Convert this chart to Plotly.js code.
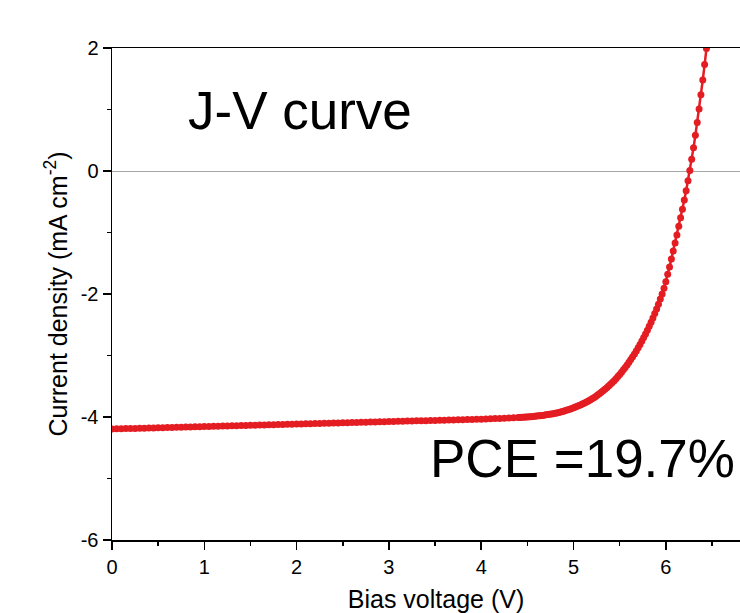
<!DOCTYPE html>
<html>
<head>
<meta charset="utf-8">
<script src="https://cdn.plot.ly/plotly-3.0.1.min.js"></script>
<style>
  html, body { margin: 0; padding: 0; background: #ffffff; overflow: hidden; width: 740px; height: 613px; }
  #chart { width: 760px; height: 613px; }
</style>
</head>
<body>
<div id="chart"></div>
<script>
// Bias voltage (V), flat region sampled every 0.05 V
const voltageFlat = [
  0.00, 0.05, 0.10, 0.15, 0.20, 0.25, 0.30, 0.35, 0.40, 0.45,
  0.50, 0.55, 0.60, 0.65, 0.70, 0.75, 0.80, 0.85, 0.90, 0.95,
  1.00, 1.05, 1.10, 1.15, 1.20, 1.25, 1.30, 1.35, 1.40, 1.45,
  1.50, 1.55, 1.60, 1.65, 1.70, 1.75, 1.80, 1.85, 1.90, 1.95,
  2.00, 2.05, 2.10, 2.15, 2.20, 2.25, 2.30, 2.35, 2.40, 2.45,
  2.50, 2.55, 2.60, 2.65, 2.70, 2.75, 2.80, 2.85, 2.90, 2.95,
  3.00, 3.05, 3.10, 3.15, 3.20, 3.25, 3.30, 3.35, 3.40, 3.45,
  3.50, 3.55, 3.60, 3.65, 3.70, 3.75, 3.80, 3.85, 3.90, 3.95,
  4.00, 4.05, 4.10, 4.15, 4.20, 4.25, 4.30, 4.35, 4.40
];
// Current density (mA cm^-2) for the flat region
const currentFlat = [
  -4.195, -4.193, -4.192, -4.189, -4.187, -4.185, -4.184, -4.181, -4.179, -4.177,
  -4.175, -4.173, -4.171, -4.170, -4.167, -4.165, -4.163, -4.161, -4.160, -4.157,
  -4.155, -4.153, -4.151, -4.149, -4.147, -4.146, -4.143, -4.141, -4.139, -4.137,
  -4.135, -4.133, -4.131, -4.129, -4.127, -4.125, -4.123, -4.121, -4.119, -4.117,
  -4.115, -4.113, -4.111, -4.109, -4.107, -4.105, -4.103, -4.101, -4.099, -4.097,
  -4.095, -4.093, -4.091, -4.089, -4.087, -4.085, -4.083, -4.081, -4.079, -4.077,
  -4.075, -4.073, -4.071, -4.069, -4.067, -4.065, -4.063, -4.061, -4.059, -4.057,
  -4.055, -4.053, -4.051, -4.049, -4.047, -4.045, -4.043, -4.041, -4.039, -4.037,
  -4.035, -4.032, -4.029, -4.026, -4.023, -4.020, -4.017, -4.014, -4.010
];
// Bias voltage (V), knee and rising region sampled every 0.02 V
const voltageKnee = [
  4.42, 4.44, 4.46, 4.48, 4.50, 4.52, 4.54, 4.56, 4.58, 4.60,
  4.62, 4.64, 4.66, 4.68, 4.70, 4.72, 4.74, 4.76, 4.78, 4.80,
  4.82, 4.84, 4.86, 4.88, 4.90, 4.92, 4.94, 4.96, 4.98, 5.00,
  5.02, 5.04, 5.06, 5.08, 5.10, 5.12, 5.14, 5.16, 5.18, 5.20,
  5.22, 5.24, 5.26, 5.28, 5.30, 5.32, 5.34, 5.36, 5.38, 5.40,
  5.42, 5.44, 5.46, 5.48, 5.50, 5.52, 5.54, 5.56, 5.58, 5.60,
  5.62, 5.64, 5.66, 5.68, 5.70, 5.72, 5.74, 5.76, 5.78, 5.80,
  5.82, 5.84, 5.86, 5.88, 5.90, 5.92, 5.94, 5.96, 5.98, 6.00,
  6.02, 6.04, 6.06, 6.08, 6.10, 6.12, 6.14, 6.16, 6.18, 6.20,
  6.22, 6.24, 6.26, 6.28, 6.30, 6.32, 6.34, 6.36, 6.38, 6.40,
  6.42, 6.44
];
// Current density (mA cm^-2) for the knee and rising region
const currentKnee = [
  -4.008, -4.006, -4.004, -4.002, -4.000, -3.997, -3.994, -3.990, -3.987, -3.984,
  -3.981, -3.978, -3.974, -3.970, -3.965, -3.961, -3.956, -3.951, -3.946, -3.940,
  -3.933, -3.926, -3.918, -3.910, -3.901, -3.892, -3.882, -3.872, -3.861, -3.850,
  -3.838, -3.826, -3.813, -3.800, -3.786, -3.771, -3.755, -3.739, -3.722, -3.704,
  -3.685, -3.665, -3.644, -3.622, -3.599, -3.575, -3.550, -3.524, -3.497, -3.469,
  -3.440, -3.409, -3.377, -3.343, -3.308, -3.271, -3.233, -3.194, -3.153, -3.111,
  -3.067, -3.021, -2.974, -2.925, -2.874, -2.821, -2.766, -2.709, -2.650, -2.589,
  -2.525, -2.459, -2.390, -2.318, -2.243, -2.165, -2.083, -1.998, -1.905, -1.800,
  -1.680, -1.560, -1.430, -1.300, -1.170, -1.040, -0.900, -0.760, -0.620, -0.470,
  -0.320, -0.160, 0.010, 0.190, 0.380, 0.580, 0.790, 1.010, 1.240, 1.480,
  1.730, 1.990
];

const xTickVals = [0, 1, 2, 3, 4, 5, 6];
const yTickVals = [-6, -4, -2, 0, 2];

const chartTitle = 'J-V curve';
const pceLabel = 'PCE =19.7%';

const voltage = voltageFlat.concat(voltageKnee);
const current = currentFlat.concat(currentKnee);

const red = '#e41d23';
const fontFamily = 'Arial, "Liberation Sans", Helvetica, sans-serif';

const trace = {
  x: voltage,
  y: current,
  type: 'scatter',
  mode: 'lines+markers',
  line: { color: red, width: 2.5 },
  marker: { color: red, size: 7 },
  hoverinfo: 'skip'
};

const layout = {
  width: 760,
  height: 613,
  margin: { l: 112, r: 0, t: 48, b: 73 },
  paper_bgcolor: '#ffffff',
  plot_bgcolor: '#ffffff',
  showlegend: false,
  font: { family: fontFamily, color: '#000000' },
  xaxis: {
    range: [0, 7.02],
    tickvals: xTickVals,
    ticktext: xTickVals.map(String),
    ticks: 'outside',
    ticklen: 8,
    tickwidth: 1.5,
    tickcolor: '#000000',
    minor: { ticks: 'outside', dtick: 0.5, ticklen: 4, tickwidth: 1.5, tickcolor: '#000000' },
    showline: true,
    linecolor: '#000000',
    linewidth: 1.5,
    mirror: true,
    showgrid: false,
    zeroline: false,
    tickfont: { size: 20, family: fontFamily, color: '#000000' },
    title: { text: 'Bias voltage (V)', font: { size: 25, family: fontFamily, color: '#000000' }, standoff: 21 }
  },
  yaxis: {
    range: [-6, 2],
    tickvals: yTickVals,
    ticktext: yTickVals.map(String),
    ticks: 'outside',
    ticklen: 8,
    tickwidth: 1.5,
    tickcolor: '#000000',
    minor: { ticks: 'outside', dtick: 1, ticklen: 4, tickwidth: 1.5, tickcolor: '#000000' },
    showline: true,
    linecolor: '#000000',
    linewidth: 1.5,
    mirror: false,
    showgrid: false,
    zeroline: true,
    zerolinecolor: '#a6a6a6',
    zerolinewidth: 1,
    tickfont: { size: 20, family: fontFamily, color: '#000000' },
    title: { text: 'Current density (mA cm<sup>-2</sup>)', font: { size: 25, family: fontFamily, color: '#000000' }, standoff: 6 }
  },
  annotations: [
    {
      text: chartTitle,
      xref: 'x', yref: 'y',
      x: 0.8, y: 0.98,
      xanchor: 'left', yanchor: 'middle',
      showarrow: false,
      font: { size: 53, family: fontFamily, color: '#000000' }
    },
    {
      text: pceLabel,
      xref: 'x', yref: 'y',
      x: 3.42, y: -4.68,
      xanchor: 'left', yanchor: 'middle',
      showarrow: false,
      font: { size: 53, family: fontFamily, color: '#000000' }
    }
  ]
};

Plotly.newPlot('chart', [trace], layout, { staticPlot: true, displayModeBar: false });
</script>
</body>
</html>
